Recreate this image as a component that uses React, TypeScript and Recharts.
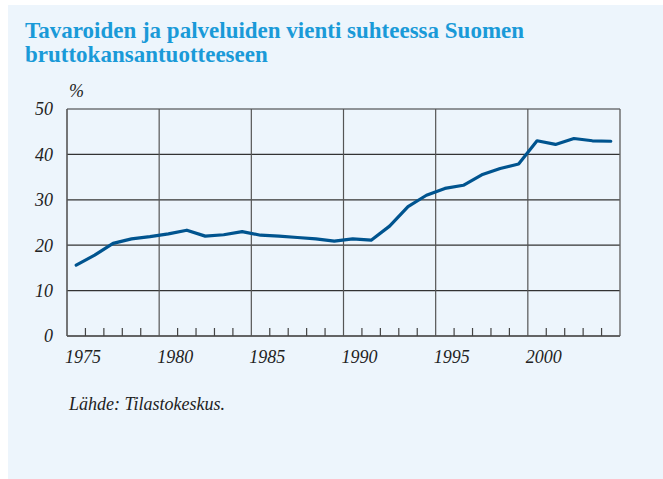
import React from 'react';
import { LineChart, Line, XAxis, YAxis, CartesianGrid, ReferenceLine } from 'recharts';

const years = [1975, 1976, 1977, 1978, 1979, 1980, 1981, 1982, 1983, 1984, 1985, 1986, 1987, 1988, 1989, 1990, 1991, 1992, 1993, 1994, 1995, 1996, 1997, 1998, 1999, 2000, 2001, 2002, 2003, 2004];
const exportShare = [15.6, 17.8, 20.4, 21.4, 21.9, 22.5, 23.3, 22.0, 22.3, 23.0, 22.2, 22.0, 21.7, 21.4, 20.9, 21.4, 21.1, 24.2, 28.5, 31.0, 32.5, 33.2, 35.5, 36.9, 37.9, 43.0, 42.2, 43.5, 43.0, 42.9];
const xLabelYears = [1975, 1980, 1985, 1990, 1995, 2000];
const yTicks = [0, 10, 20, 30, 40, 50];

const data = years.map((year, i) => ({ year, value: exportShare[i] }));
const boundaryTicks = years.map((y) => y - 0.5);
const majorLines = xLabelYears.slice(1).map((y) => y - 0.5);
const lastBoundary = years[years.length - 1] + 0.5;

const FONT = 'Liberation Serif, DejaVu Serif, serif';

const XTick = (props: any) => {
  const { x, y, payload } = props;
  const year = payload.value + 0.5;
  const isMajor = xLabelYears.includes(year);
  return (
    <g>
      {!isMajor && (
        <line x1={x} x2={x} y1={y} y2={y - 8} stroke="#444" strokeWidth={1.2} />
      )}
      {isMajor && (
        <text x={x - 2} y={y + 27} textAnchor="start" fontStyle="italic" fontSize={18} fontFamily={FONT} fill="#222">
          {year}
        </text>
      )}
    </g>
  );
};

export default function App() {
  return (
    <div style={{ position: 'absolute', left: 0, top: 0, width: 663, height: 479, background: '#ffffff', overflow: 'hidden' }}>
      <div style={{ position: 'absolute', left: 8, top: 5, width: 655, height: 474, background: '#edf5fc' }} />
      <div style={{ position: 'absolute', left: 0, top: 0 }}>
        <LineChart width={663} height={376} data={data} margin={{ top: 109, right: 43, bottom: 0, left: 0 }}>
          <CartesianGrid vertical={false} stroke="#333" strokeWidth={1.2} />
          <XAxis
            dataKey="year"
            type="number"
            domain={[years[0] - 0.5, lastBoundary]}
            ticks={boundaryTicks}
            interval={0}
            height={40}
            tickSize={0}
            tickMargin={0}
            tickLine={false}
            axisLine={{ stroke: '#555', strokeWidth: 1.6 }}
            tick={<XTick />}
          />
          <YAxis
            type="number"
            domain={[0, 50]}
            ticks={yTicks}
            width={67}
            tickSize={0}
            tickMargin={14}
            tickLine={false}
            axisLine={{ stroke: '#555', strokeWidth: 1.6 }}
            tick={{ fontSize: 18, fontStyle: 'italic', fontFamily: FONT, fill: '#222' }}
          />
          {majorLines.map((v) => (
            <ReferenceLine key={v} x={v} stroke="#555" strokeWidth={1.2} />
          ))}
          <ReferenceLine x={lastBoundary} stroke="#666" strokeWidth={1.4} />
          <Line
            type="linear"
            dataKey="value"
            stroke="#00548f"
            strokeWidth={3.2}
            dot={false}
            strokeLinejoin="round"
            strokeLinecap="round"
            isAnimationActive={false}
          />
        </LineChart>
      </div>
      <svg width={663} height={479} style={{ position: 'absolute', left: 0, top: 0, pointerEvents: 'none' }}>
        <text x={25} y={38} fontFamily={FONT} fontWeight={700} fontSize={23} fill="#1a9ad8">
          Tavaroiden ja palveluiden vienti suhteessa Suomen
        </text>
        <text x={25} y={62} fontFamily={FONT} fontWeight={700} fontSize={23} fill="#1a9ad8">
          bruttokansantuotteeseen
        </text>
        <text x={69} y={97} fontFamily={FONT} fontStyle="italic" fontSize={18} fill="#222">
          %
        </text>
        <text x={69} y={410} fontFamily={FONT} fontStyle="italic" fontSize={18} fill="#222">
          Lähde: Tilastokeskus.
        </text>
      </svg>
    </div>
  );
}
